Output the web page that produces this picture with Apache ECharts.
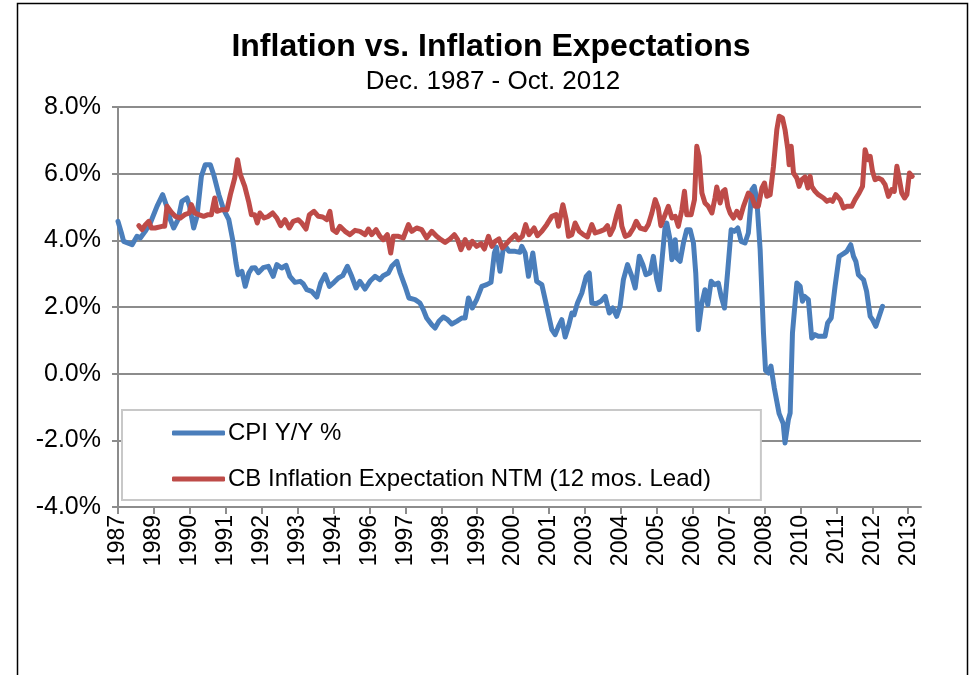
<!DOCTYPE html>
<html lang="en">
<head>
    <meta charset="UTF-8">
    <title>Inflation vs. Inflation Expectations</title>
    <script src="https://cdn.jsdelivr.net/npm/echarts@6/dist/echarts.min.js"></script>
    <style>
        html, body { margin: 0; padding: 0; background: #fff; }
        #chart { width: 971px; height: 675px; }
    </style>
</head>
<body>
<div id="chart"></div>
<script>
    /* [months counted from Dec. 1987, percent] */
    var cpiData = [
        [0, 4.57], [1.3, 4.23], [2.2, 3.97], [5.5, 3.87], [7.4, 4.12], [8.7, 4.07], [10.6, 4.27], [12.6, 4.52],
        [15.2, 5.02], [17.4, 5.37], [19, 5.02], [20.4, 4.62], [21.7, 4.37], [23.4, 4.62], [24.9, 5.17], [26.9, 5.27],
        [27.9, 5.02], [29.5, 4.37], [30.8, 4.72], [32.5, 5.92], [34, 6.27], [36, 6.27], [37.3, 5.97], [39.3, 5.37],
        [41.2, 4.92], [43.2, 4.62], [44.7, 4.02], [46, 3.32], [46.8, 2.97], [48.3, 3.07], [49.6, 2.62], [51, 3.02],
        [52.2, 3.17], [53.4, 3.18], [54.7, 3.03], [56.6, 3.18], [58.6, 3.22], [60.5, 2.92], [61.9, 3.27], [63.8, 3.17],
        [65.5, 3.25], [67, 2.92], [69, 2.74], [71, 2.77], [72.2, 2.70], [73.6, 2.52], [75.5, 2.47], [77.5, 2.30],
        [79, 2.72], [80.7, 2.97], [82.4, 2.62], [84.2, 2.74], [85.9, 2.87], [87.6, 2.94], [89.4, 3.22], [91.1, 2.92],
        [92.8, 2.57], [94.3, 2.77], [96.3, 2.54], [98.2, 2.77], [100.2, 2.92], [102.1, 2.82], [103.4, 2.94], [105.4, 3.02],
        [106.7, 3.22], [108.7, 3.37], [110, 3.02], [111.9, 2.62], [113.4, 2.27], [115.8, 2.22], [117.7, 2.12], [119, 1.92],
        [120.3, 1.67], [122.3, 1.47], [123.6, 1.37], [125.1, 1.57], [126.8, 1.70], [128.5, 1.62], [130.1, 1.49], [132, 1.57],
        [134, 1.67], [135.3, 1.67], [136.6, 2.27], [138.1, 1.97], [139.8, 2.22], [141.8, 2.62], [143.7, 2.67], [145.4, 2.74],
        [146.7, 3.62], [147.5, 3.80], [148.9, 3.07], [150.2, 3.77], [151, 3.82], [152.4, 3.67], [154.8, 3.67], [156.7, 3.64],
        [157.4, 3.82], [158.7, 3.62], [160, 2.92], [161.7, 3.62], [163.2, 2.77], [165.2, 2.67], [167.1, 2.02], [169.1, 1.32],
        [170.4, 1.17], [171.7, 1.42], [173, 1.62], [174.3, 1.10], [175.6, 1.42], [176.9, 1.82], [177.8, 1.77], [179.1, 2.12],
        [180.8, 2.42], [182.5, 2.92], [183.7, 3.02], [184.7, 2.12], [186.4, 2.10], [188.2, 2.17], [189.9, 2.32], [191.5, 1.82],
        [192.9, 1.97], [194.4, 1.72], [195.7, 2.02], [197, 2.82], [198.6, 3.27], [200.3, 2.92], [201.6, 2.57], [203.2, 3.52],
        [204.6, 3.27], [205.8, 2.97], [207.4, 3.02], [208.7, 3.52], [210, 2.82], [211, 2.52], [212.3, 3.62], [213.2, 4.37],
        [213.9, 4.52], [215.2, 4.02], [215.9, 3.42], [217.2, 4.02], [217.8, 3.47], [219.1, 3.37], [220.4, 3.92], [221.7, 4.32],
        [223, 4.32], [224.3, 3.92], [225.2, 3.02], [226.2, 1.32], [227.6, 2.12], [228.8, 2.52], [229.9, 2.07], [231.2, 2.77],
        [232.5, 2.67], [234, 2.72], [235.1, 2.32], [236.4, 1.97], [237.7, 3.12], [239, 4.32], [240.3, 4.27], [241.6, 4.37],
        [242.9, 3.97], [244.4, 3.92], [245.7, 4.22], [247.1, 5.52], [248, 5.62], [249, 5.22], [250.3, 3.72], [251.6, 1.22],
        [252.4, 0.10], [253.5, 0.02], [254.5, 0.23], [255.8, -0.42], [257.7, -1.20], [259.3, -1.50], [260, -2.08], [261.3, -1.38],
        [262, -1.18], [262.9, 1.22], [264.6, 2.72], [265.9, 2.62], [266.8, 2.17], [267.6, 2.32], [269.1, 2.22], [270.4, 1.07],
        [271.7, 1.17], [273, 1.12], [275.6, 1.12], [276.6, 1.52], [278, 1.67], [279.5, 2.62], [281.1, 3.52], [282.8, 3.60],
        [284.1, 3.67], [285.6, 3.87], [286.7, 3.52], [287.6, 3.37], [288.6, 2.97], [290.6, 2.82], [291.8, 2.47], [293.2, 1.72],
        [294.1, 1.62], [295.4, 1.42], [296.7, 1.72], [298, 2.02]
    ];

    var expData = [
        [8.1, 4.44], [9.4, 4.32], [10.7, 4.47], [12, 4.57], [13, 4.37], [14.5, 4.37], [17.2, 4.42], [18.2, 4.42],
        [19.1, 5.02], [20.8, 4.84], [22.3, 4.72], [24.3, 4.67], [26, 4.77], [27.8, 4.82], [28.6, 5.07], [29.9, 4.82],
        [31.5, 4.77], [33.4, 4.72], [35.1, 4.77], [36.4, 4.77], [37.7, 5.27], [38.6, 4.87], [40.5, 4.92], [42.5, 4.92],
        [43.8, 5.37], [45.5, 5.87], [46.6, 6.42], [47.7, 5.97], [49.4, 5.62], [50.9, 5.17], [52, 4.77], [53.3, 4.77],
        [54.3, 4.52], [55.3, 4.82], [56.9, 4.67], [58.6, 4.72], [60.3, 4.82], [61.9, 4.67], [63.4, 4.44], [65.1, 4.62],
        [66.8, 4.37], [68.3, 4.57], [70.3, 4.62], [71.6, 4.52], [73.3, 4.34], [74.6, 4.77], [76.4, 4.87], [78.1, 4.72],
        [79.8, 4.70], [81.4, 4.62], [82.6, 4.87], [83.7, 4.32], [85.2, 4.24], [86.5, 4.42], [88.5, 4.27], [90.4, 4.17],
        [92.4, 4.30], [94.3, 4.27], [96.3, 4.17], [97.6, 4.34], [98.9, 4.17], [100.6, 4.32], [102.1, 4.12], [103.4, 4.02],
        [105, 4.17], [106.3, 3.62], [107.3, 4.12], [109.3, 4.12], [111.2, 4.07], [113.2, 4.47], [114.5, 4.27], [116.4, 4.37],
        [118.4, 4.32], [120.3, 4.07], [122.3, 4.27], [124.2, 4.12], [125.9, 4.02], [127.5, 3.94], [129.4, 4.04], [131.1, 4.17],
        [132.4, 4.02], [133.7, 3.72], [135.3, 4.02], [136.8, 3.77], [138.1, 3.97], [139.8, 3.82], [141.5, 3.90], [142.8, 3.74],
        [144.4, 4.12], [145.7, 3.82], [147, 3.97], [148.5, 4.04], [149.8, 3.77], [151.1, 3.87], [152.8, 4.02], [154.8, 4.17],
        [156.1, 4.02], [157.6, 4.12], [158.9, 4.47], [160.2, 4.17], [162.2, 4.37], [163.5, 4.14], [165.2, 4.27], [167.1, 4.47],
        [169.1, 4.72], [170.8, 4.77], [171.7, 4.42], [173.4, 5.07], [174.7, 4.62], [175.6, 4.12], [176.9, 4.17], [178.2, 4.52],
        [179.8, 4.27], [181.4, 4.17], [183, 4.10], [184.7, 4.47], [186, 4.22], [187.9, 4.27], [189.5, 4.32], [190.8, 4.44],
        [191.8, 4.17], [193.1, 4.37], [194.4, 4.77], [195.4, 5.02], [196.4, 4.42], [197.7, 4.12], [199.3, 4.17], [200.9, 4.37],
        [202, 4.57], [203.5, 4.37], [205.5, 4.32], [206.7, 4.47], [208.1, 4.82], [209.4, 5.22], [210.6, 4.97], [211.6, 4.44],
        [213, 4.72], [214.5, 5.02], [215.9, 4.67], [217.2, 4.72], [218.4, 4.42], [219.8, 4.92], [220.8, 5.47], [221.7, 4.77],
        [223.4, 4.77], [224.7, 5.22], [225.6, 6.82], [226.5, 6.52], [227.6, 5.42], [228.8, 5.12], [230.1, 5.02], [231.5, 4.82],
        [232.7, 5.27], [233.4, 5.60], [234.7, 5.12], [235.8, 5.47], [236.6, 5.52], [237.7, 5.02], [238.6, 4.82], [239.9, 4.67],
        [241.2, 4.87], [242.5, 4.67], [243.8, 5.02], [245.7, 5.42], [247, 5.32], [248.3, 5.02], [249.6, 5.02], [251, 5.57],
        [252, 5.72], [252.9, 5.32], [254.2, 5.37], [255.5, 6.22], [256.8, 7.32], [257.7, 7.72], [259, 7.67], [260, 7.32],
        [261.1, 6.72], [261.6, 6.27], [262.4, 6.82], [263.3, 6.02], [264.6, 5.87], [265.5, 5.62], [266.5, 5.82], [267.8, 5.90],
        [268.9, 5.57], [269.8, 5.92], [270.4, 5.62], [271.7, 5.47], [273, 5.37], [275, 5.27], [276.3, 5.17], [277.6, 5.22],
        [278.5, 5.17], [279.8, 5.37], [281.5, 5.22], [282.8, 4.97], [284.1, 5.02], [286, 5.02], [287.3, 5.22], [288.9, 5.42],
        [290.2, 5.62], [291.2, 6.72], [292.3, 6.42], [293.2, 6.52], [294.1, 6.07], [295.1, 5.82], [296.4, 5.87], [297.7, 5.82],
        [299, 5.67], [300.3, 5.32], [301.6, 5.52], [302.6, 5.47], [303.6, 6.22], [304.6, 5.82], [305.5, 5.42], [306.6, 5.27],
        [307.5, 5.37], [308.5, 6.02], [309.6, 5.92]
    ];

    /* tick labels: one every 14 months, shown as the year */
    var tickMonths = [0, 14, 28, 42, 56, 70, 84, 98, 112, 126, 140, 154, 168, 182, 196, 210, 224, 238, 252, 266, 280, 294, 308];
    var yTicks = [-4, -2, 0, 2, 4, 6, 8];

    function monthYear(m) {
        return String(1987 + Math.floor((11 + m) / 12));
    }

    var font = 'Liberation Sans, Arial, sans-serif';
    var gridGray = '#8c8c8c';

    var option = {
        animation: false,
        backgroundColor: '#fff',
        title: [
            {
                text: 'Inflation vs. Inflation Expectations',
                left: 486, top: 26, textAlign: 'center',
                textStyle: {fontFamily: font, fontSize: 32, fontWeight: 'bold', color: '#000'}
            },
            {
                text: 'Dec. 1987 - Oct. 2012',
                left: 488, top: 64, textAlign: 'center',
                textStyle: {fontFamily: font, fontSize: 26, fontWeight: 'normal', color: '#000'}
            }
        ],
        legend: {
            orient: 'vertical',
            left: 122, top: 410,
            padding: [11, 50, 9, 50],
            itemGap: 22,
            itemWidth: 53,
            itemHeight: 5,
            icon: 'roundRect',
            backgroundColor: '#fff',
            borderColor: '#c8c8c8',
            borderWidth: 2,
            selectedMode: false,
            textStyle: {fontFamily: font, fontSize: 24, color: '#000', padding: [0, 0, 0, -2]},
            data: ['CPI Y/Y %', 'CB Inflation Expectation NTM (12 mos. Lead)']
        },
        grid: {left: 118, right: 50, top: 107, bottom: 168},
        xAxis: {
            type: 'value',
            min: 0, max: 313,
            axisLine: {show: true, onZero: false, lineStyle: {color: gridGray, width: 2}},
            axisTick: {show: true, length: 7, customValues: tickMonths, lineStyle: {color: gridGray, width: 2}},
            axisLabel: {
                customValues: tickMonths,
                rotate: 90, margin: 8,
                fontFamily: font, fontSize: 23, color: '#000',
                formatter: function (v) { return monthYear(v); }
            },
            splitLine: {show: false}
        },
        yAxis: {
            type: 'value',
            min: yTicks[0], max: yTicks[yTicks.length - 1], interval: 2,
            axisLine: {show: true, lineStyle: {color: gridGray, width: 2}},
            axisTick: {show: true, length: 6, lineStyle: {color: gridGray, width: 2}},
            axisLabel: {
                margin: 17, fontFamily: font, fontSize: 25, color: '#000',
                formatter: function (v) { return v.toFixed(1) + '%'; }
            },
            splitLine: {show: true, lineStyle: {color: gridGray, width: 2}}
        },
        series: [
            {
                name: 'CPI Y/Y %',
                type: 'line',
                showSymbol: false,
                color: '#4a7ebb',
                lineStyle: {width: 5, join: 'round', cap: 'round'},
                data: cpiData
            },
            {
                name: 'CB Inflation Expectation NTM (12 mos. Lead)',
                type: 'line',
                showSymbol: false,
                color: '#be4b48',
                lineStyle: {width: 5, join: 'round', cap: 'round'},
                data: expData
            }
        ],
        graphic: [
            {
                type: 'rect',
                shape: {x: 17.5, y: 3.5, width: 950, height: 700},
                style: {fill: 'none', stroke: '#000', lineWidth: 1.5},
                silent: true
            }
        ]
    };

    var chart = echarts.init(document.getElementById('chart'));
    chart.setOption(option);
</script>
</body>
</html>
